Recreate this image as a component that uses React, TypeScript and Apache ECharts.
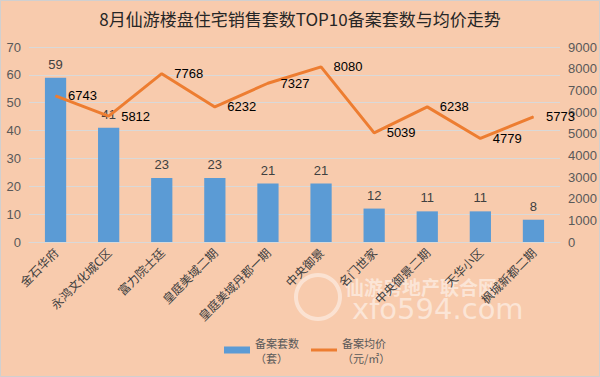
import React, { useEffect, useRef } from "react";
import * as echarts from "echarts";

const titleText = "8月仙游楼盘住宅销售套数TOP10备案套数与均价走势";
const categories = [
  "金石华府",
  "永鸿文化城C区",
  "富力院士廷",
  "皇庭美域二期",
  "皇庭美域丹郡一期",
  "中央御景",
  "名门世家",
  "中央御景二期",
  "天华小区",
  "枫城新都二期",
];
const countSeriesName = "备案套数\n（套）";
const priceSeriesName = "备案均价\n（元/㎡）";
const counts = [59, 41, 23, 23, 21, 21, 12, 11, 11, 8];
const prices = [6743, 5812, 7768, 6232, 7327, 8080, 5039, 6238, 4779, 5773];

const FONT = "'Liberation Sans', 'Noto Sans CJK SC', sans-serif";

export default function App() {
  const ref = useRef<HTMLDivElement>(null);
  useEffect(() => {
    const chart = echarts.init(ref.current!, null, { renderer: "svg" });
    chart.setOption({
      animation: false,
      backgroundColor: "#F8CBAD",
      textStyle: { fontFamily: FONT },
      title: {
        text: titleText,
        left: "center",
        top: 5,
        textStyle: {
          fontFamily: "'Noto Sans CJK SC', serif",
          fontSize: 17,
          fontWeight: "normal",
          color: "#262626",
        },
      },
      grid: { left: 29, right: 40, top: 47, bottom: 135 },
      legend: {
        bottom: 7,
        left: 219,
        itemGap: 12,
        itemWidth: 26,
        itemHeight: 7,
        textStyle: {
          fontFamily: "'Noto Sans CJK SC', sans-serif",
          fontSize: 11,
          color: "#595959",
          lineHeight: 15,
        },
        data: [
          { name: countSeriesName, icon: "rect" },
          { name: priceSeriesName, icon: "path://M0,0H26V3H0Z", itemStyle: { color: "#ED7D31" } },
        ],
      },
      xAxis: {
        type: "category",
        data: categories,
        axisLine: { lineStyle: { color: "#D9D9D9", width: 1 } },
        axisTick: { show: false },
        axisLabel: {
          interval: 0,
          rotate: 45,
          margin: 8,
          fontFamily: "'Noto Sans CJK SC', sans-serif",
          fontSize: 12,
          color: "#404040",
        },
      },
      yAxis: [
        {
          type: "value",
          min: 0,
          max: 70,
          interval: 10,
          axisLine: { show: false },
          axisTick: { show: false },
          splitLine: { lineStyle: { color: "#D9D9D9", width: 1 } },
          axisLabel: { fontSize: 13, color: "#595959", margin: 8, fontFamily: FONT },
        },
        {
          type: "value",
          min: 0,
          max: 9000,
          interval: 1000,
          axisLine: { show: false },
          axisTick: { show: false },
          splitLine: { show: false },
          axisLabel: {
            fontSize: 13,
            color: "#595959",
            margin: 8,
            fontFamily: FONT,
            formatter: (v: number) => String(v),
          },
        },
      ],
      series: [
        {
          name: countSeriesName,
          type: "bar",
          data: counts,
          barWidth: "40%",
          itemStyle: { color: "#5B9BD5" },
          label: {
            show: true,
            position: "top",
            distance: 7,
            fontSize: 13,
            color: "#404040",
            fontFamily: FONT,
          },
        },
        {
          name: priceSeriesName,
          type: "line",
          yAxisIndex: 1,
          data: prices,
          symbol: "circle",
          symbolSize: 1,
          showSymbol: true,
          lineStyle: { color: "#ED7D31", width: 3 },
          itemStyle: { color: "#ED7D31" },
          label: {
            show: true,
            position: "right",
            distance: 12,
            fontSize: 13,
            color: "#000000",
            fontFamily: FONT,
          },
        },
      ],
      graphic: [
        {
          type: "rect",
          shape: { x: 0.5, y: 0.5, width: 599, height: 376 },
          style: { fill: "none", stroke: "#D0D0D0", lineWidth: 1 },
          silent: true,
        },
        {
          type: "ring",
          shape: { cx: 318, cy: 297, r: 24, r0: 20 },
          style: { fill: "rgba(255,255,255,0.45)" },
          silent: true,
        },
        {
          type: "text",
          x: 345,
          y: 286,
          style: {
            text: "仙游房地产联合网",
            fill: "rgba(255,255,255,0.5)",
            fontSize: 19,
            fontWeight: "bold",
            fontFamily: "'Noto Sans CJK SC', sans-serif",
            verticalAlign: "middle",
          },
          silent: true,
        },
        {
          type: "text",
          x: 352,
          y: 309,
          style: {
            text: "xfo594.com",
            fill: "rgba(255,255,255,0.5)",
            fontSize: 29,
            fontFamily: "'DejaVu Sans', sans-serif",
            verticalAlign: "middle",
          },
          silent: true,
        },
      ],
    });
    return () => chart.dispose();
  }, []);
  return (
    <div
      ref={ref}
      style={{ position: "fixed", left: 0, top: 0, width: 600, height: 377 }}
    />
  );
}
